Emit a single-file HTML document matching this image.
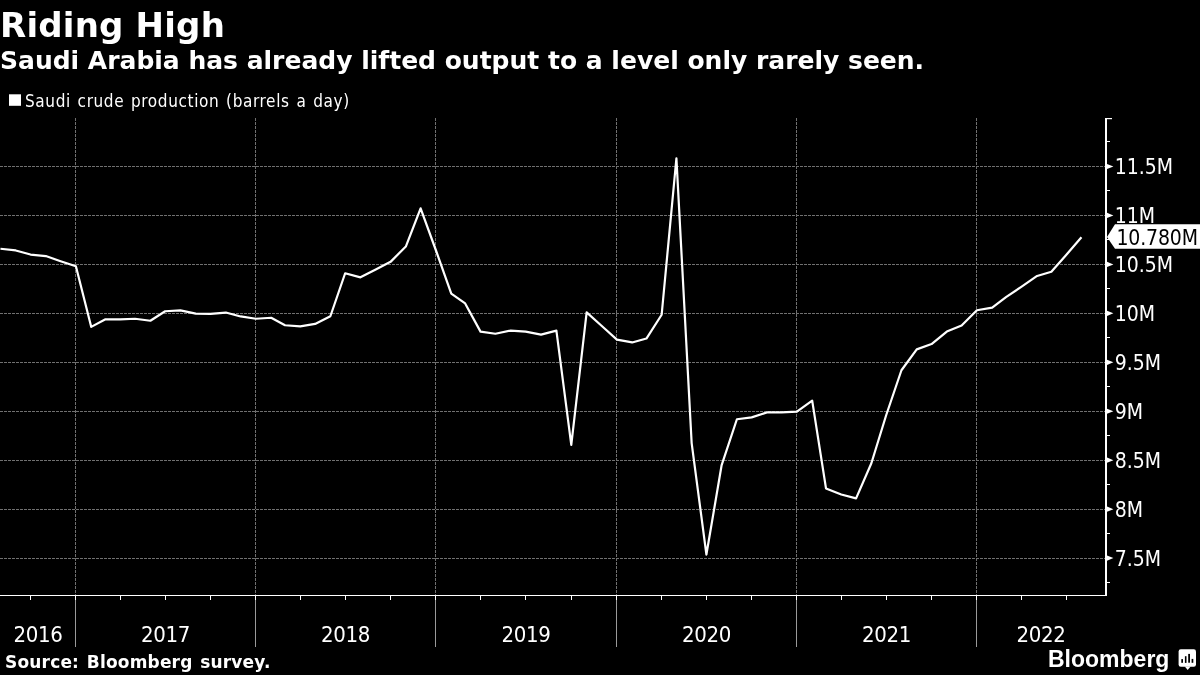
<!DOCTYPE html>
<html><head><meta charset="utf-8"><style>
html,body{margin:0;padding:0;background:#000;}
body{width:1200px;height:675px;overflow:hidden;position:relative;}
svg{position:absolute;left:0;top:0;will-change:transform;}
.g{stroke:#707070;stroke-width:1;stroke-dasharray:3 1;fill:none;}
.ln{stroke:#fff;stroke-width:2.2;fill:none;stroke-linejoin:round;stroke-linecap:butt;}
.yl{font-family:"DejaVu Sans Condensed","DejaVu Sans",sans-serif;font-stretch:condensed;font-size:21px;fill:#fff;}
.xl{font-family:"DejaVu Sans Condensed","DejaVu Sans",sans-serif;font-stretch:condensed;font-size:22px;fill:#fff;text-anchor:middle;letter-spacing:-0.4px;}
.t1{font-family:"DejaVu Sans",sans-serif;font-weight:bold;font-size:34px;letter-spacing:0.2px;fill:#fff;}
.t2{font-family:"DejaVu Sans",sans-serif;font-weight:bold;font-size:25px;fill:#fff;}
.lg{font-family:"DejaVu Sans Condensed","DejaVu Sans",sans-serif;font-stretch:condensed;font-size:17px;letter-spacing:0.62px;word-spacing:1.3px;fill:#fff;}
.src{font-family:"DejaVu Sans",sans-serif;font-weight:bold;font-size:17px;letter-spacing:0.18px;word-spacing:1.6px;fill:#fff;}
.bb{font-family:"Liberation Sans",sans-serif;font-weight:bold;font-size:23px;fill:#fff;}
</style></head><body>
<svg width="1200" height="675" viewBox="0 0 1200 675">
<rect width="1200" height="675" fill="#000"/>
<text x="0" y="37" class="t1">Riding High</text>
<text x="0" y="68.7" class="t2">Saudi Arabia has already lifted output to a level only rarely seen.</text>
<rect x="9" y="94.3" width="12" height="11.5" fill="#fff"/>
<text x="25" y="106.5" class="lg">Saudi crude production (barrels a day)</text>
<line x1="0" y1="558.5" x2="1105" y2="558.5" class="g"/>
<line x1="0" y1="509.5" x2="1105" y2="509.5" class="g"/>
<line x1="0" y1="460.5" x2="1105" y2="460.5" class="g"/>
<line x1="0" y1="411.5" x2="1105" y2="411.5" class="g"/>
<line x1="0" y1="362.5" x2="1105" y2="362.5" class="g"/>
<line x1="0" y1="313.5" x2="1105" y2="313.5" class="g"/>
<line x1="0" y1="264.5" x2="1105" y2="264.5" class="g"/>
<line x1="0" y1="215.5" x2="1105" y2="215.5" class="g"/>
<line x1="0" y1="166.5" x2="1105" y2="166.5" class="g"/>
<line x1="75.5" y1="118" x2="75.5" y2="595" class="g"/>
<line x1="255.5" y1="118" x2="255.5" y2="595" class="g"/>
<line x1="435.5" y1="118" x2="435.5" y2="595" class="g"/>
<line x1="616.5" y1="118" x2="616.5" y2="595" class="g"/>
<line x1="796.5" y1="118" x2="796.5" y2="595" class="g"/>
<line x1="976.5" y1="118" x2="976.5" y2="595" class="g"/>
<path d="M0.45,248.75 L15.74,250.45 L30.53,254.55 L45.82,256.05 L60.61,261.25 L75.90,266.25 L91.19,326.85 L105.00,319.45 L120.28,319.45 L135.08,318.75 L150.37,320.75 L165.16,311.25 L180.45,310.45 L195.74,313.55 L210.53,313.95 L225.82,312.55 L240.61,316.45 L255.90,318.75 L271.19,317.75 L285.00,325.25 L300.28,326.45 L315.08,323.95 L330.37,316.25 L345.16,273.25 L360.45,277.35 L375.74,269.55 L390.53,261.85 L405.82,246.55 L420.61,208.35 L435.90,250.25 L451.27,293.55 L465.16,303.45 L480.53,331.65 L495.41,333.75 L510.78,330.55 L525.66,331.65 L541.03,334.65 L556.40,330.65 L571.28,444.85 L586.65,312.35 L601.53,325.75 L616.90,339.65 L632.15,342.45 L646.41,338.55 L661.65,314.75 L676.41,158.25 L691.65,443.05 L706.41,554.55 L721.65,465.05 L736.90,419.25 L751.65,417.35 L766.90,412.45 L781.65,412.35 L796.90,411.55 L812.19,400.65 L826.00,488.45 L841.28,494.45 L856.08,498.35 L871.37,463.25 L886.16,415.25 L901.45,370.25 L916.74,349.35 L931.53,344.05 L946.82,331.55 L961.61,325.45 L976.90,310.25 L992.19,307.55 L1006.00,297.15 L1021.28,286.85 L1037.10,275.95 L1051.37,271.75 L1066.16,254.95 L1081.45,237.25" class="ln"/>
<rect x="0" y="595" width="1107" height="1" fill="#fff"/>
<rect x="1105" y="118" width="2" height="478" fill="#fff"/>
<rect x="30" y="596" width="1" height="4" fill="#fff"/>
<rect x="75" y="596" width="1" height="4" fill="#fff"/>
<rect x="75" y="600" width="1" height="47" fill="#9a9a9a"/>
<rect x="120" y="596" width="1" height="4" fill="#fff"/>
<rect x="165" y="596" width="1" height="4" fill="#fff"/>
<rect x="210" y="596" width="1" height="4" fill="#fff"/>
<rect x="255" y="596" width="1" height="4" fill="#fff"/>
<rect x="255" y="600" width="1" height="47" fill="#9a9a9a"/>
<rect x="300" y="596" width="1" height="4" fill="#fff"/>
<rect x="345" y="596" width="1" height="4" fill="#fff"/>
<rect x="390" y="596" width="1" height="4" fill="#fff"/>
<rect x="435" y="596" width="1" height="4" fill="#fff"/>
<rect x="435" y="600" width="1" height="47" fill="#9a9a9a"/>
<rect x="480" y="596" width="1" height="4" fill="#fff"/>
<rect x="525" y="596" width="1" height="4" fill="#fff"/>
<rect x="571" y="596" width="1" height="4" fill="#fff"/>
<rect x="616" y="596" width="1" height="4" fill="#fff"/>
<rect x="616" y="600" width="1" height="47" fill="#9a9a9a"/>
<rect x="661" y="596" width="1" height="4" fill="#fff"/>
<rect x="706" y="596" width="1" height="4" fill="#fff"/>
<rect x="751" y="596" width="1" height="4" fill="#fff"/>
<rect x="796" y="596" width="1" height="4" fill="#fff"/>
<rect x="796" y="600" width="1" height="47" fill="#9a9a9a"/>
<rect x="841" y="596" width="1" height="4" fill="#fff"/>
<rect x="886" y="596" width="1" height="4" fill="#fff"/>
<rect x="931" y="596" width="1" height="4" fill="#fff"/>
<rect x="976" y="596" width="1" height="4" fill="#fff"/>
<rect x="976" y="600" width="1" height="47" fill="#9a9a9a"/>
<rect x="1021" y="596" width="1" height="4" fill="#fff"/>
<rect x="1066" y="596" width="1" height="4" fill="#fff"/>
<rect x="1105" y="118" width="7" height="1.2" fill="#fff"/>
<rect x="1107" y="582" width="3" height="1" fill="#fff"/>
<rect x="1107" y="533" width="3" height="1" fill="#fff"/>
<rect x="1107" y="484" width="3" height="1" fill="#fff"/>
<rect x="1107" y="435" width="3" height="1" fill="#fff"/>
<rect x="1107" y="386" width="3" height="1" fill="#fff"/>
<rect x="1107" y="337" width="3" height="1" fill="#fff"/>
<rect x="1107" y="288" width="3" height="1" fill="#fff"/>
<rect x="1107" y="239" width="3" height="1" fill="#fff"/>
<rect x="1107" y="190" width="3" height="1" fill="#fff"/>
<rect x="1107" y="141" width="3" height="1" fill="#fff"/>
<path d="M1107,555.50 L1113.4,558.10 L1107,560.70 Z" fill="#fff"/>
<text x="1114.8" y="565.80" class="yl">7.5M</text>
<path d="M1107,506.55 L1113.4,509.15 L1107,511.75 Z" fill="#fff"/>
<text x="1114.8" y="516.85" class="yl">8M</text>
<path d="M1107,457.60 L1113.4,460.20 L1107,462.80 Z" fill="#fff"/>
<text x="1114.8" y="467.90" class="yl">8.5M</text>
<path d="M1107,408.65 L1113.4,411.25 L1107,413.85 Z" fill="#fff"/>
<text x="1114.8" y="418.95" class="yl">9M</text>
<path d="M1107,359.70 L1113.4,362.30 L1107,364.90 Z" fill="#fff"/>
<text x="1114.8" y="370.00" class="yl">9.5M</text>
<path d="M1107,310.75 L1113.4,313.35 L1107,315.95 Z" fill="#fff"/>
<text x="1114.8" y="321.05" class="yl">10M</text>
<path d="M1107,261.80 L1113.4,264.40 L1107,267.00 Z" fill="#fff"/>
<text x="1114.8" y="272.10" class="yl">10.5M</text>
<path d="M1107,212.85 L1113.4,215.45 L1107,218.05 Z" fill="#fff"/>
<text x="1114.8" y="223.15" class="yl">11M</text>
<path d="M1107,163.90 L1113.4,166.50 L1107,169.10 Z" fill="#fff"/>
<text x="1114.8" y="174.20" class="yl">11.5M</text>
<path d="M1107,236.99 L1115,224.2 L1200,224.2 L1200,248.8 L1115,248.8 Z" fill="#fff"/>
<text x="1116.5" y="244.79" class="yl" style="fill:#000;letter-spacing:-0.15px">10.780M</text>
<text x="38" y="642" class="xl">2016</text>
<text x="165.5" y="642" class="xl">2017</text>
<text x="345.5" y="642" class="xl">2018</text>
<text x="526" y="642" class="xl">2019</text>
<text x="706.5" y="642" class="xl">2020</text>
<text x="886.5" y="642" class="xl">2021</text>
<text x="1041" y="642" class="xl">2022</text>
<text x="5" y="668" class="src">Source: Bloomberg survey.</text>
<text x="1048" y="666.7" class="bb">Bloomberg</text>
<g>
<rect x="1178.6" y="649.2" width="17.4" height="17.6" rx="2.2" fill="#fff"/>
<path d="M1184.8,666.5 L1187.7,670 L1190.6,666.5 Z" fill="#fff"/>
<rect x="1181.3" y="659.1" width="1.7" height="3.7" fill="#000"/>
<rect x="1184.9" y="656.2" width="1.6" height="6.7" fill="#000"/>
<rect x="1188.2" y="653.9" width="1.8" height="8.8" fill="#000"/>
<rect x="1191.6" y="658.9" width="1.7" height="3.9" fill="#000"/>
</g>
</svg>
</body></html>
